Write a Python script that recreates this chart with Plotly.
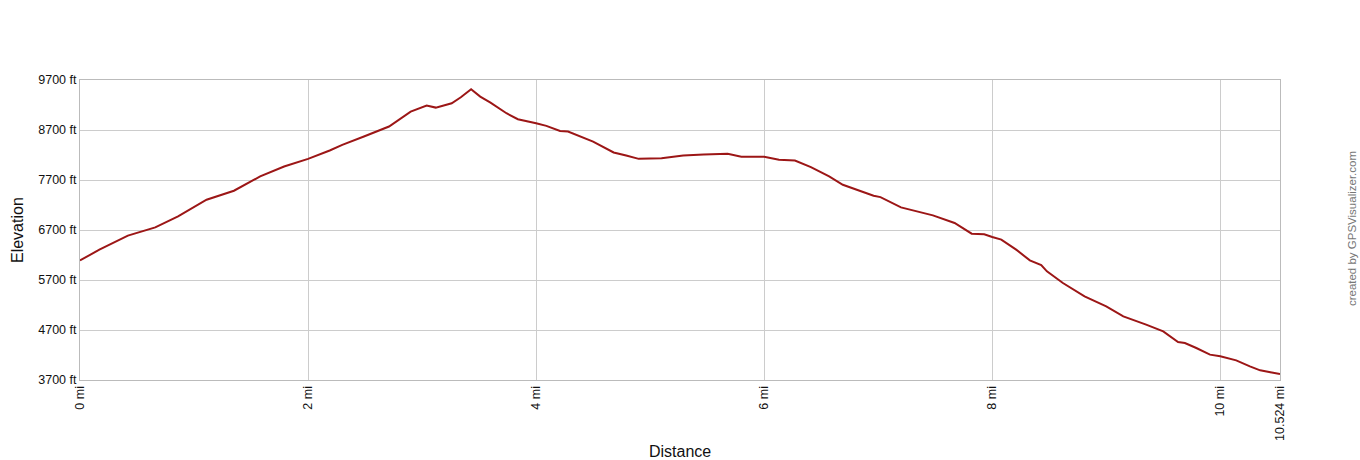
import plotly.graph_objects as go

distance_mi = [0.0, 0.17, 0.42, 0.66, 0.86, 1.11, 1.35, 1.58, 1.79, 2.0, 2.19, 2.30, 2.49, 2.71,
               2.90, 3.04, 3.12, 3.26, 3.34, 3.43, 3.51, 3.60, 3.74, 3.84, 4.0, 4.09, 4.21,
               4.28, 4.50, 4.68, 4.79, 4.90, 5.10, 5.29, 5.47, 5.68, 5.80, 6.0, 6.13, 6.27,
               6.41, 6.57, 6.69, 6.85, 6.96, 7.02, 7.20, 7.48, 7.67, 7.82, 7.93, 8.0, 8.08,
               8.21, 8.33, 8.43, 8.48, 8.62, 8.81, 9.00, 9.15, 9.35, 9.50, 9.63, 9.69, 9.79,
               9.91, 10.0, 10.14, 10.26, 10.35, 10.44, 10.524]
elevation_ft = [6090, 6307, 6587, 6753, 6973, 7305, 7485, 7771, 7970, 8123, 8290, 8403, 8569, 8769,
                9068, 9188, 9148, 9234, 9354, 9514, 9367, 9248, 9035, 8915, 8835, 8782, 8682,
                8669, 8469, 8250, 8190, 8123, 8137, 8190, 8210, 8223, 8163, 8163, 8103, 8090,
                7957, 7771, 7605, 7471, 7385, 7358, 7152, 6993, 6840, 6627, 6613, 6560, 6507,
                6307, 6093, 6000, 5873, 5640, 5373, 5173, 4973, 4807, 4673, 4460, 4440, 4340,
                4207, 4173, 4093, 3973, 3893, 3853, 3820]

x_tick_vals = [0, 2, 4, 6, 8, 10, 10.524]
x_tick_text = ["0 mi", "2 mi", "4 mi", "6 mi", "8 mi", "10 mi", "10.524 mi"]
y_tick_vals = [3700, 4700, 5700, 6700, 7700, 8700, 9700]
y_tick_text = ["3700 ft", "4700 ft", "5700 ft", "6700 ft", "7700 ft", "8700 ft", "9700 ft"]

fig = go.Figure()
fig.add_trace(go.Scatter(x=distance_mi, y=elevation_ft, mode="lines",
                         line=dict(color="#9c1616", width=2), hoverinfo="x+y"))

font_family = "Liberation Sans, Arial, sans-serif"
fig.update_layout(
    width=1360, height=460,
    margin=dict(l=80, r=80, t=80, b=80, autoexpand=False),
    paper_bgcolor="white", plot_bgcolor="white",
    showlegend=False,
    font=dict(family=font_family, size=12, color="#111"),
    xaxis=dict(range=[0, 10.524], tickvals=x_tick_vals, ticktext=x_tick_text,
               tickangle=-90, showgrid=True, gridcolor="#cccccc", gridwidth=1,
               showline=True, linecolor="#bbbbbb", mirror=True, zeroline=False,
               ticks="", automargin=False, tickfont=dict(size=12.5, color="#111")),
    yaxis=dict(range=[3700, 9700], tickvals=y_tick_vals, ticktext=y_tick_text,
               showgrid=True, gridcolor="#cccccc", gridwidth=1,
               showline=True, linecolor="#bbbbbb", mirror=True, zeroline=False,
               ticks="", automargin=False, tickfont=dict(size=12.5, color="#111")),
    annotations=[
        dict(text="Distance", xref="paper", yref="paper", x=0.5, y=-0.2367,
             showarrow=False, xanchor="center", yanchor="middle",
             font=dict(size=16, color="#111", family=font_family)),
        dict(text="Elevation", xref="paper", yref="paper", x=-0.0525, y=0.5,
             textangle=-90, showarrow=False, xanchor="center", yanchor="middle",
             font=dict(size=16, color="#111", family=font_family)),
        dict(text="created by GPSVisualizer.com", xref="paper", yref="paper",
             x=1.06, y=0.503, textangle=-90, showarrow=False,
             font=dict(size=11.5, color="#777", family=font_family),
             xanchor="center", yanchor="middle"),
    ],
)

fig.write_html("out.html", config={"displayModeBar": False},
               post_script="document.body.style.margin='0';document.body.style.overflow='hidden';")
